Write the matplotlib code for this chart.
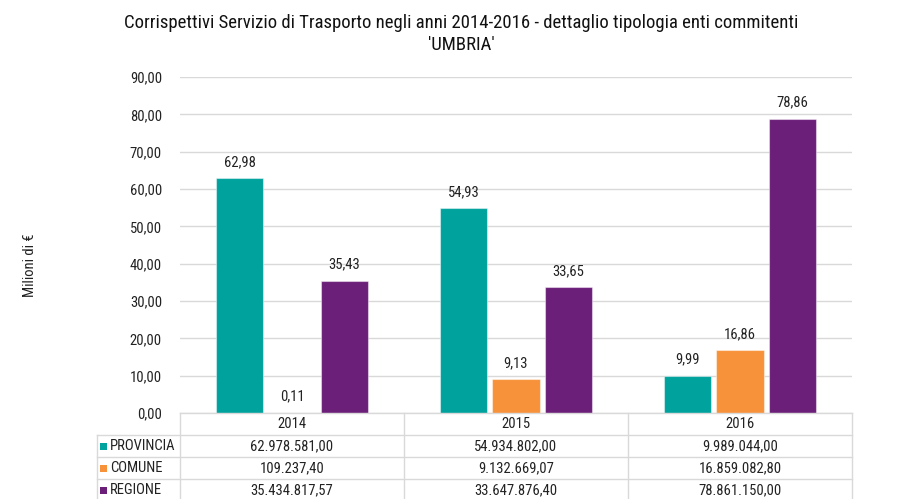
import matplotlib
matplotlib.use("Agg")
import matplotlib.pyplot as plt
import numpy as np

plt.rcParams['font.family'] = ['Roboto Condensed', 'DejaVu Sans']

years = ['2014', '2015', '2016']
series = ['PROVINCIA', 'COMUNE', 'REGIONE']
provincia = [62.978581, 54.934802, 9.989044]
comune = [0.1092374, 9.13266907, 16.8590828]
regione = [35.43481757, 33.6478764, 78.86115]
table_text = [
    ['62.978.581,00', '54.934.802,00', '9.989.044,00'],
    ['109.237,40', '9.132.669,07', '16.859.082,80'],
    ['35.434.817,57', '33.647.876,40', '78.861.150,00'],
]
colors = ['#00A29D', '#F7923A', '#6C1F78']
title = "Corrispettivi Servizio di Trasporto negli anni 2014-2016 - dettaglio tipologia enti commitenti\n'UMBRIA'"

W, H = 904, 499
fig = plt.figure(figsize=(W / 100, H / 100), dpi=100)

def fx(px):
    return px / W

def fy(py):
    return 1 - py / H

txtc = '#222222'
fs = 10.5

ax = fig.add_axes([fx(180), fy(413), fx(852) - fx(180), fy(77) - fy(413)])
x = np.arange(len(years))
bw = 0.212
gap = 0.022
vals = [provincia, comune, regione]
for i, (s, v, c) in enumerate(zip(series, vals, colors)):
    offs = (i - 1) * (bw + gap)
    ax.bar(x + offs, v, bw, color=c, label=s, edgecolor=(1, 1, 1, 0.45), linewidth=0.8)
    for xi, vi in zip(x + offs, v):
        ax.text(xi, vi + 2.4, f"{vi:.2f}".replace('.', ','), ha='center', va='bottom',
                fontsize=fs, color=txtc)

ax.set_xlim(-0.5, 2.5)
ax.set_ylim(0, 90)
ax.set_yticks(np.arange(0, 91, 10))
ax.set_yticklabels([f"{t:.2f}".replace('.', ',') for t in np.arange(0, 91, 10)], fontsize=fs, color=txtc)
ax.set_xticks([])
ax.yaxis.grid(True, color='#D9D9D9', linewidth=1)
ax.set_axisbelow(True)
for sp in ax.spines.values():
    sp.set_visible(False)
ax.tick_params(axis='y', length=0, pad=13)

fig.text(fx(30), fy(265), 'Milioni di €', rotation=90, ha='center', va='center', fontsize=fs, color=txtc)
fig.text(fx(461), fy(34), title, ha='center', va='center', fontsize=13.5, color='#111111', linespacing=1.25)

# table
tax = fig.add_axes([0, 0, 1, 1])
tax.set_xlim(0, W)
tax.set_ylim(H, 0)
tax.axis('off')
lc = '#D9D9D9'
col_x = [180, 404, 628, 852]
row_y = [413, 435, 457, 479, 501]
left = 97
tax.plot([180, 852], [413, 413], color=lc, lw=1)
for yy in row_y[1:]:
    tax.plot([left, 852], [yy, yy], color=lc, lw=1)
tax.plot([left, left], [435, 501], color=lc, lw=1)
for xx in col_x:
    tax.plot([xx, xx], [413, 501], color=lc, lw=1)
for j, yr in enumerate(years):
    tax.text((col_x[j] + col_x[j + 1]) / 2, (row_y[0] + row_y[1]) / 2, yr, ha='center', va='center',
             fontsize=fs, color=txtc)
for i, s in enumerate(series):
    yc = (row_y[i + 1] + row_y[i + 2]) / 2
    tax.add_patch(plt.Rectangle((100, yc - 3.5), 7, 7, color=colors[i], lw=0))
    tax.text(110, yc, s, ha='left', va='center', fontsize=fs, color=txtc)
    for j in range(3):
        tax.text((col_x[j] + col_x[j + 1]) / 2, yc, table_text[i][j], ha='center', va='center',
                 fontsize=fs, color=txtc)

fig.savefig('out.png', dpi=100)
